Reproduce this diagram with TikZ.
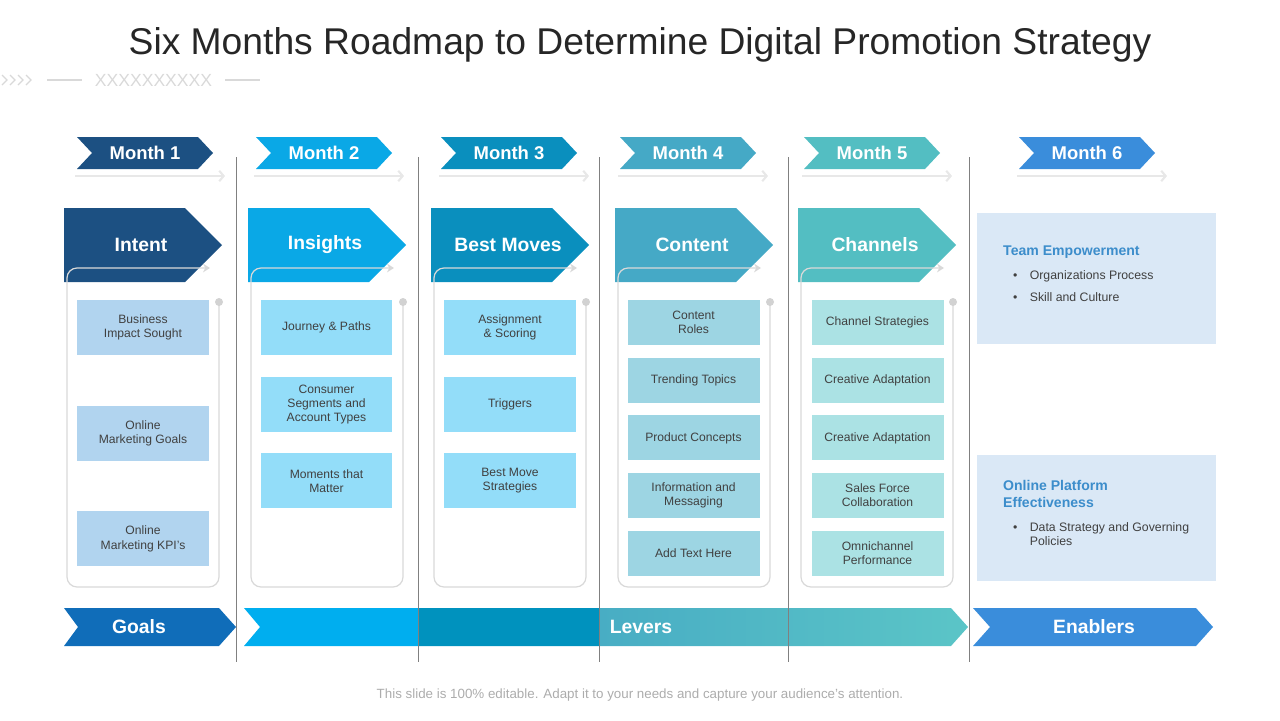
\documentclass[tikz,border=0pt]{standalone}
\usepackage{fontspec}
\setmainfont{Liberation Sans}
\usetikzlibrary{arrows.meta,positioning}
\definecolor{cone}{HTML}{1C5082}
\definecolor{ctwo}{HTML}{0AA8E6}
\definecolor{cthree}{HTML}{0A8FBE}
\definecolor{cfour}{HTML}{45A9C6}
\definecolor{cfive}{HTML}{53BEC2}
\definecolor{csix}{HTML}{3A8DDB}
\definecolor{ione}{HTML}{B1D4EF}
\definecolor{itwo}{HTML}{93DDF9}
\definecolor{ifour}{HTML}{9DD5E3}
\definecolor{ifive}{HTML}{ABE2E4}
\definecolor{pale}{HTML}{DAE8F6}
\definecolor{head}{HTML}{3C8DCB}
\definecolor{txt}{HTML}{404040}
\definecolor{divc}{HTML}{808080}
\definecolor{goalc}{HTML}{106DB9}
\definecolor{levone}{HTML}{00AEEF}
\definecolor{levtwo}{HTML}{0092BE}
\definecolor{levthree}{HTML}{48ADC4}
\definecolor{levfour}{HTML}{5BC5C7}

\begin{document}
\begin{tikzpicture}[x=0.02cm,y=-0.02cm,
  mlab/.style={text=white,font=\fontsize{10.5}{12}\selectfont\bfseries},
  blab/.style={text=white,font=\fontsize{11}{13}\selectfont\bfseries},
  item/.style={align=center,minimum width=2.64cm,minimum height=1.1cm,inner sep=0pt,
    text=txt,font=\fontsize{6.9}{8}\selectfont},
  sitem/.style={item,minimum height=0.9cm},
  hline/.style={gray!18,line width=1.2pt,-{Straight Barb[length=2.5pt,width=6pt]}},
  frame/.style={gray!30,line width=0.7pt,rounded corners=0.2cm,-{Stealth[length=4pt,width=5pt]}},
  divider/.style={divc,line width=0.45pt},
  deco/.style={gray!30,line width=0.7pt},
  note/.style={anchor=west,align=left,text=txt,font=\fontsize{7}{8}\selectfont}
]
  \useasboundingbox (0,0) rectangle (1280,720);

  \node[text=black!85,font=\fontsize{21.2}{25}\selectfont] (title) at (640,45)
    {Six Months Roadmap to Determine Digital Promotion Strategy};
  \foreach \i in {0,...,3}
    \draw[deco] (2+\i*8,75) -- (7+\i*8,80) -- (2+\i*8,85);
  \draw[deco] (47,80) -- (82,80);
  \node[text=gray!30,font=\fontsize{10}{11}\selectfont] (xx) at (153.5,80) {XXXXXXXXXX};
  \draw[deco] (225,80) -- (260,80);

  \foreach \x/\c/\n in {145/cone/1,324/ctwo/2,509/cthree/3,688/cfour/4,872/cfive/5,1087/csix/6}{
    \fill[\c] (\x-68,137) -- (\x+53,137) -- (\x+68,153) -- (\x+53,169)
      -- (\x-68,169) -- (\x-53,153) -- cycle;
    \node[mlab] (m\n) at (\x,153) {Month \n};
    \draw[hline] (\x-70,176) -- (\x+80,176);
  }

  \foreach \x/\c/\t/\k in {64/cone/Intent/p1,248/ctwo/Insights/p2,431/cthree/Best Moves/p3,
      615/cfour/Content/p4,798/cfive/Channels/p5}{
    \fill[\c] (\x,208) -- ++(121,0) -- ++(37,37) -- ++(-37,37) -- ++(-121,0) -- cycle;
    \node[blab] (\k) at (\x+77,245) {\t};
  }

  \foreach \l in {67,251,434,618,801}{
    \draw[frame] (\l+152,302) -- (\l+152,587) -- (\l,587) -- (\l,268) -- (\l+143,268);
    \fill[gray!35] (\l+152,302) circle (0.08cm);
  }

  \node[item,fill=ione] (g1) at (143,327.5) {Business\\Impact Sought};
  \node[item,fill=ione,below=1cm of g1] (g2) {Online\\Marketing Goals};
  \node[item,fill=ione,below=1cm of g2] (g3) {Online\\Marketing KPI’s};

  \node[item,fill=itwo] (s1) at (326.5,327.5) {Journey \& Paths};
  \node[item,fill=itwo,below=0.42cm of s1] (s2) {Consumer\\Segments and\\Account Types};
  \node[item,fill=itwo,below=0.42cm of s2] (s3) {Moments that\\Matter};

  \node[item,fill=itwo] (b1) at (510,327.5) {Assignment\\\& Scoring};
  \node[item,fill=itwo,below=0.42cm of b1] (b2) {Triggers};
  \node[item,fill=itwo,below=0.42cm of b2] (b3) {Best Move\\Strategies};

  \node[sitem,fill=ifour] (c1) at (693.5,322.5) {Content\\Roles};
  \node[sitem,fill=ifour,below=0.24cm of c1] (c2) {Trending Topics};
  \node[sitem,fill=ifour,below=0.24cm of c2] (c3) {Product Concepts};
  \node[sitem,fill=ifour,below=0.24cm of c3] (c4) {Information and\\Messaging};
  \node[sitem,fill=ifour,below=0.24cm of c4] (c5) {Add Text Here};

  \node[sitem,fill=ifive] (h1) at (877.5,322.5) {Channel Strategies};
  \node[sitem,fill=ifive,below=0.24cm of h1] (h2) {Creative Adaptation};
  \node[sitem,fill=ifive,below=0.24cm of h2] (h3) {Creative Adaptation};
  \node[sitem,fill=ifive,below=0.24cm of h3] (h4) {Sales Force\\Collaboration};
  \node[sitem,fill=ifive,below=0.24cm of h4] (h5) {Omnichannel\\Performance};

  \fill[pale] (977,213) rectangle (1216,344);
  \node[note,text=head,font=\fontsize{8}{9.5}\selectfont\bfseries] (te) at (997,252) {Team Empowerment};
  \node[note] (te1) at (1007,276) {\textbullet\hspace{7pt}Organizations Process};
  \node[note] (te2) at (1007,297) {\textbullet\hspace{7pt}Skill and Culture};
  \fill[pale] (977,455) rectangle (1216,581);
  \node[note,text=head,font=\fontsize{8}{9.2}\selectfont\bfseries] (op) at (997,494)
    {Online Platform\\Effectiveness};
  \node[note] (op1) at (1007,534) {\textbullet\hspace{7pt}Data Strategy and Governing\\\hspace{9.5pt}Policies};

  \fill[goalc] (64,608) -- (219,608) -- (236,627) -- (219,646) -- (64,646) -- (78,627) -- cycle;
  \node[blab] (goals) at (139,627) {Goals};
  \begin{scope}
    \clip (244,608) -- (951,608) -- (968,627) -- (951,646) -- (244,646) -- (260,627) -- cycle;
    \fill[levone] (240,600) rectangle (418,650);
    \fill[levtwo] (418,600) rectangle (599,650);
    \shade[left color=levthree,right color=levfour] (599,600) rectangle (970,650);
  \end{scope}
  \node[blab] (levers) at (641,627) {Levers};
  \fill[csix] (973,608) -- (1196,608) -- (1213,627) -- (1196,646) -- (973,646) -- (990,627) -- cycle;
  \node[blab] (enab) at (1094,627) {Enablers};

  \foreach \x in {236,418,599,788,969}
    \draw[divider] (\x,157) -- (\x,662);

  \node[text=gray!65,font=\fontsize{7.6}{9}\selectfont] (foot) at (640,695)
    {This slide is 100\% editable. Adapt it to your needs and capture your audience’s attention.};
\end{tikzpicture}
\end{document}
